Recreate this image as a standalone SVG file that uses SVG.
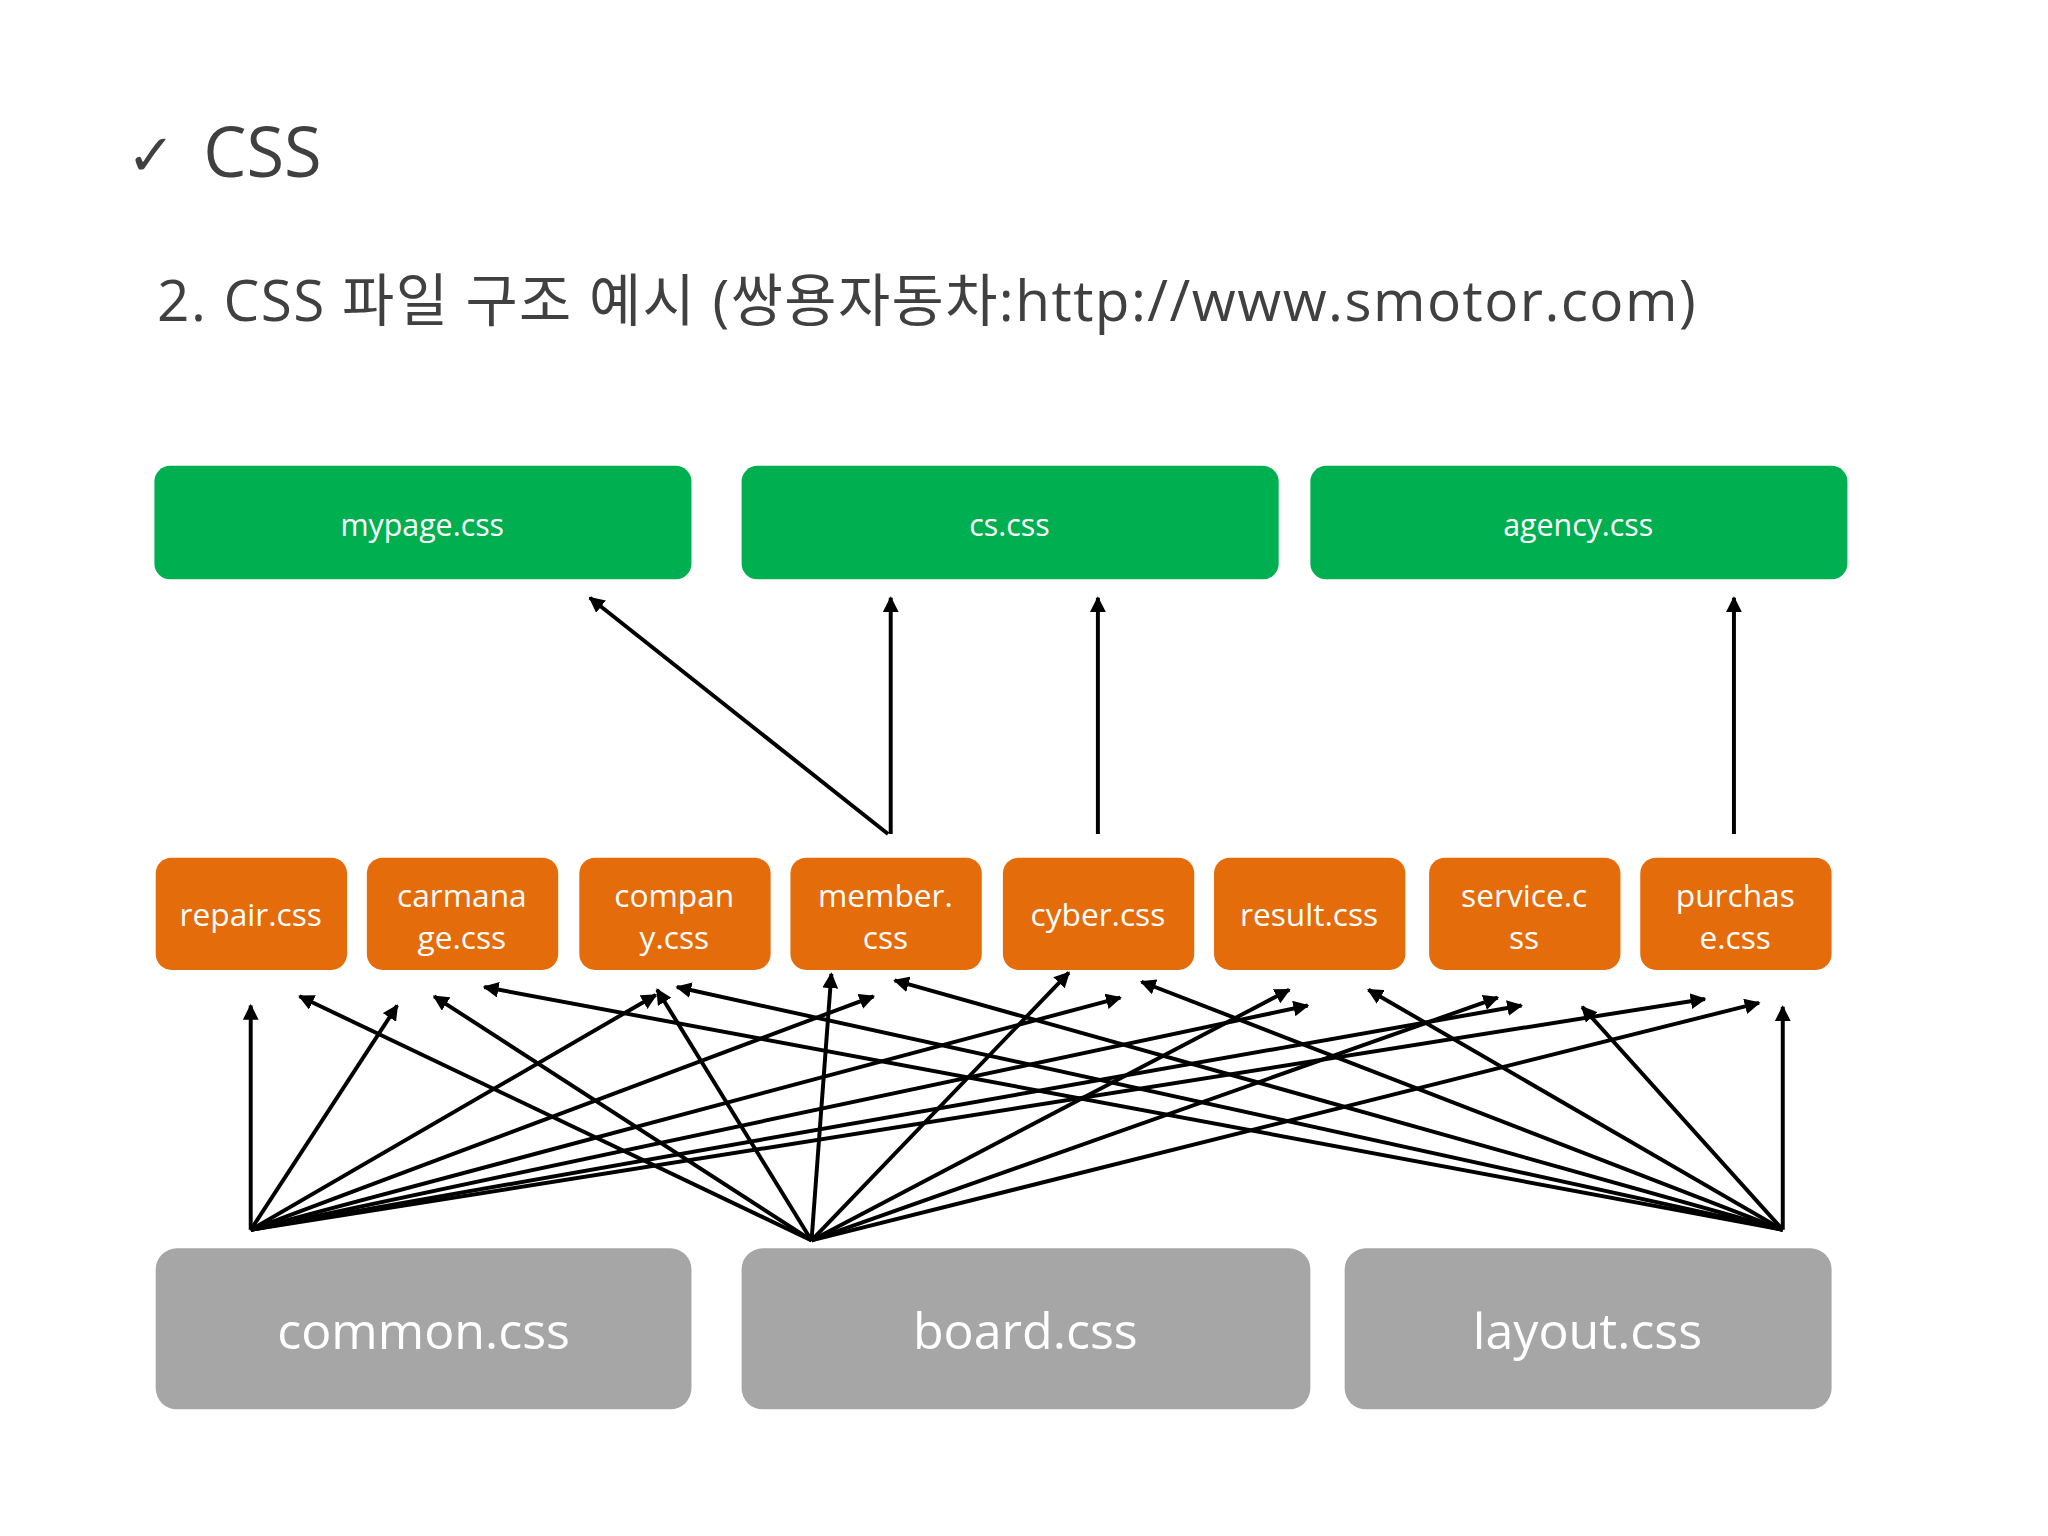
<svg xmlns="http://www.w3.org/2000/svg" width="2048" height="1536" viewBox="0 0 2048 1536">
<style>
.t{font-family:"Open Sans","Noto Sans CJK KR",sans-serif;fill:#fff;text-anchor:middle}
.g{fill:#00b050}.o{fill:#e46c0a}.y{fill:#a6a6a6}
#conn line{stroke:#000;stroke-width:3;marker-end:url(#a)}
</style>
<defs><marker id="a" viewBox="0 0 10 10" refX="9" refY="5" markerWidth="4" markerHeight="4" orient="auto" markerUnits="strokeWidth"><path d="M0,0L10,5L0,10z" fill="#000"/></marker></defs>
<rect width="2048" height="1536" fill="#fff"/>
<g transform="scale(1.31959)">
<text x="96" y="133" font-family="DejaVu Sans,sans-serif" font-size="44" fill="#404040">✓</text>
<text x="154" y="134" font-family="Open Sans,sans-serif" font-size="52" fill="#404040">CSS</text>
<text x="119" y="243" font-family="Open Sans,'Noto Sans CJK KR',sans-serif" font-size="43" fill="#404040" textLength="1166">2. CSS 파일 구조 예시 (쌍용자동차:http://www.smotor.com)</text>
<g id="mypage"><rect class="g" x="117" y="353" width="407" height="86" rx="12"/><text class="t" x="320" y="406" font-size="23">mypage.css</text></g>
<g id="cs"><rect class="g" x="562" y="353" width="407" height="86" rx="12"/><text class="t" x="765" y="406" font-size="23">cs.css</text></g>
<g id="agency"><rect class="g" x="993" y="353" width="407" height="86" rx="12"/><text class="t" x="1196" y="406" font-size="23">agency.css</text></g>
<g id="repair"><rect class="o" x="118" y="650" width="145" height="85" rx="12"/><text class="t" x="190" y="702" font-size="24">repair.css</text></g>
<g id="carmanage"><rect class="o" x="278" y="650" width="145" height="85" rx="12"/><text class="t" x="350" y="687" font-size="24">carmana</text><text class="t" x="350" y="719" font-size="24">ge.css</text></g>
<g id="company"><rect class="o" x="439" y="650" width="145" height="85" rx="12"/><text class="t" x="511" y="687" font-size="24">compan</text><text class="t" x="511" y="719" font-size="24">y.css</text></g>
<g id="member"><rect class="o" x="599" y="650" width="145" height="85" rx="12"/><text class="t" x="671" y="687" font-size="24">member.</text><text class="t" x="671" y="719" font-size="24">css</text></g>
<g id="cyber"><rect class="o" x="760" y="650" width="145" height="85" rx="12"/><text class="t" x="832" y="702" font-size="24">cyber.css</text></g>
<g id="result"><rect class="o" x="920" y="650" width="145" height="85" rx="12"/><text class="t" x="992" y="702" font-size="24">result.css</text></g>
<g id="service"><rect class="o" x="1083" y="650" width="145" height="85" rx="12"/><text class="t" x="1155" y="687" font-size="24">service.c</text><text class="t" x="1155" y="719" font-size="24">ss</text></g>
<g id="purchase"><rect class="o" x="1243" y="650" width="145" height="85" rx="12"/><text class="t" x="1315" y="687" font-size="24">purchas</text><text class="t" x="1315" y="719" font-size="24">e.css</text></g>
<g id="common"><rect class="y" x="118" y="946" width="406" height="122" rx="16"/><text class="t" x="321" y="1022" font-size="38">common.css</text></g>
<g id="board"><rect class="y" x="562" y="946" width="431" height="122" rx="16"/><text class="t" x="777" y="1022" font-size="38">board.css</text></g>
<g id="layout"><rect class="y" x="1019" y="946" width="369" height="122" rx="16"/><text class="t" x="1203" y="1022" font-size="38">layout.css</text></g>
<g id="conn">
<line x1="673" y1="632" x2="447" y2="453"/>
<line x1="675" y1="632" x2="675" y2="453"/>
<line x1="832" y1="632" x2="832" y2="453"/>
<line x1="1314" y1="632" x2="1314" y2="453"/>
<line x1="190" y1="932" x2="190" y2="762"/>
<line x1="190" y1="932" x2="301" y2="762"/>
<line x1="190" y1="932" x2="497" y2="754"/>
<line x1="190" y1="932" x2="662" y2="755"/>
<line x1="190" y1="932" x2="849" y2="756"/>
<line x1="190" y1="932" x2="991" y2="762"/>
<line x1="190" y1="932" x2="1153" y2="762"/>
<line x1="190" y1="932" x2="1292" y2="757"/>
<line x1="615" y1="940" x2="227" y2="755"/>
<line x1="615" y1="940" x2="329" y2="755"/>
<line x1="615" y1="940" x2="498" y2="750"/>
<line x1="615" y1="940" x2="630" y2="738"/>
<line x1="615" y1="940" x2="810" y2="737"/>
<line x1="615" y1="940" x2="977" y2="750"/>
<line x1="615" y1="940" x2="1135" y2="756"/>
<line x1="615" y1="940" x2="1333" y2="760"/>
<line x1="1351" y1="932" x2="367" y2="748"/>
<line x1="1351" y1="932" x2="513" y2="748"/>
<line x1="1351" y1="932" x2="678" y2="743"/>
<line x1="1351" y1="932" x2="865" y2="744"/>
<line x1="1351" y1="932" x2="1037" y2="750"/>
<line x1="1351" y1="932" x2="1199" y2="763"/>
<line x1="1351" y1="932" x2="1351" y2="763"/>
</g>
</g>
</svg>
